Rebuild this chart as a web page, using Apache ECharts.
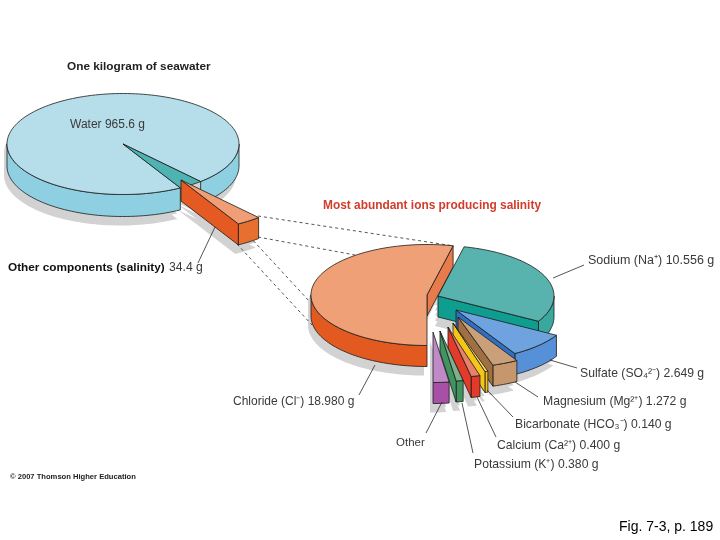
<!DOCTYPE html>
<html>
<head>
<meta charset="utf-8">
<style>html,body{margin:0;padding:0;background:#fff}#main{width:720px;height:540px}</style>
<script src="https://cdn.jsdelivr.net/npm/echarts@6/dist/echarts.min.js"></script>
</head>
<body>
<div id="main"></div>
<script>
// 海水成分
var seawaterNames = ['Water', 'Other components (salinity)'];
var seawaterGrams = [965.6, 34.4];

// 离子 (slice sizes as drawn in the figure, in degrees; small ones are widened there)
var ionNames = ['Chloride', 'Sodium', 'Sulfate', 'Magnesium', 'Bicarbonate', 'Calcium', 'Potassium', 'Other'];
var ionGrams = [18.980, 10.556, 2.649, 1.272, 0.140, 0.400, 0.380, null];
var ionDrawnDegrees = [193, 107, 29.5, 13, 1.5, 4.5, 3.5, 8];

var waterLabel = 'Water 965.6 g';
var ionLabels = [
    'Chloride (Cl\u207B) 18.980 g',
    'Sodium (Na\u207A) 10.556 g',
    'Sulfate (SO\u2084\u00B2\u207B) 2.649 g',
    'Magnesium (Mg\u00B2\u207A) 1.272 g',
    'Bicarbonate (HCO\u2083\u207B) 0.140 g',
    'Calcium (Ca\u00B2\u207A) 0.400 g',
    'Potassium (K\u207A) 0.380 g',
    'Other'
];

// layout
var RX = 116, RY = 50.5, DEPTH = 21;
var FONT = '"Liberation Sans", Arial, sans-serif';
var GAP_START = 48;
var INK = '#1c1c1c';

var ionCenters = [[427, 295], [438, 296], [456, 310], [458, 317], [453, 323], [448, 327], [440, 331], [433, 332]];
var ionTop = ['#f0a077', '#58b3ae', '#6fa3df', '#c9a07a', '#f6de72', '#e8806a', '#7db08b', '#c08ac8'];
var ionRadial = ['#e87b4c', '#0f9d8f', '#2e6fc4', '#a06f42', '#f5c518', '#e23b2a', '#3f9460', '#a850a8'];
var ionOuter = ['#e25a20', '#39a9a0', '#5590d8', '#c6976c', '#f5c518', '#e23b2a', '#3f9460', '#a850a8'];

// every slice: centre, angle range, colours. Angles run clockwise on the screen.
function buildSlices() {
    var list = [];
    var waterDeg = seawaterGrams[0] / (seawaterGrams[0] + seawaterGrams[1]) * 360;
    var otherDeg = 360 - waterDeg;
    list.push({c: [123, 144], a0: GAP_START + otherDeg, a1: GAP_START + 360, top: '#b6deea', radial: null, outer: '#8ed0e2', depth: 22});
    list.push({c: [123, 144], a0: GAP_START, a1: GAP_START + otherDeg, top: '#4fb3b3', radial: null, outer: null, depth: 0});
    list.push({c: [181, 180], a0: GAP_START, a1: GAP_START + otherDeg, top: '#ef9e76', radial: '#e55a22', outer: '#e8702e', depth: 21});
    var a = 90;
    for (var i = 0; i < ionDrawnDegrees.length; i++) {
        list.push({c: ionCenters[i], a0: a, a1: a + ionDrawnDegrees[i], top: ionTop[i], radial: ionRadial[i], outer: ionOuter[i], depth: DEPTH});
        a += ionDrawnDegrees[i];
    }
    return list;
}
var slices = buildSlices();

function pt(c, deg, dy, dx) {
    var r = deg * Math.PI / 180;
    return [c[0] + RX * Math.cos(r) + (dx || 0), c[1] + RY * Math.sin(r) + (dy || 0)];
}

function arcPoints(c, a0, a1, dy, dx) {
    var out = [];
    var n = Math.max(2, Math.ceil((a1 - a0) / 2));
    for (var i = 0; i <= n; i++) {
        out.push(pt(c, a0 + (a1 - a0) * i / n, dy, dx));
    }
    return out;
}

function poly(points, fill, stroke) {
    return {
        type: 'polygon',
        shape: {points: points},
        style: {fill: fill, stroke: stroke || null, lineWidth: stroke ? 0.8 : 0, lineJoin: 'round'}
    };
}

function sectorPoints(s, dy, dx) {
    return [[s.c[0] + (dx || 0), s.c[1] + (dy || 0)]].concat(arcPoints(s.c, s.a0, s.a1, dy, dx));
}

function renderShadow(params) {
    var s = slices[params.dataIndex];
    if (!s.depth) return {type: 'group', children: []};
    var kids = [];
    for (var k = 0; k <= 4; k++) {
        kids.push(poly(sectorPoints(s, 9 + s.depth * k / 4, -3), '#d2d2d2'));
    }
    return {type: 'group', children: kids};
}

function renderSlice(params) {
    var s = slices[params.dataIndex];
    var kids = [];
    if (s.depth) {
        // outer wall, only the part of the rim facing the viewer
        if (s.outer) {
            for (var k = -1; k <= 1; k++) {
                var lo = Math.max(s.a0, k * 360), hi = Math.min(s.a1, k * 360 + 180);
                if (hi > lo) {
                    var up = arcPoints(s.c, lo, hi, 0);
                    var down = arcPoints(s.c, lo, hi, s.depth).reverse();
                    kids.push(poly(up.concat(down), s.outer, INK));
                }
            }
        }
        // cut wall
        if (s.radial) {
            var walls = [];
            if (Math.cos(s.a1 * Math.PI / 180) > 0.01) walls.push(s.a1);
            if (Math.cos(s.a0 * Math.PI / 180) < -0.01) walls.push(s.a0);
            walls.forEach(function (w) {
                var e = pt(s.c, w, 0);
                kids.push(poly([s.c, e, [e[0], e[1] + s.depth], [s.c[0], s.c[1] + s.depth]], s.radial, INK));
            });
        }
    }
    kids.push(poly(sectorPoints(s, 0), s.top, INK));
    return {type: 'group', children: kids};
}

function textItem(x, y, text, size, weight, color, align) {
    return {
        type: 'text',
        x: x,
        y: y,
        z: 20,
        style: {text: text, fill: color || '#3a3a3a', font: (weight || 'normal') + ' ' + size + 'px ' + FONT, textAlign: align || 'left', textVerticalAlign: 'middle'}
    };
}

function lineItem(p, q, dashed) {
    return {
        type: 'line',
        z: dashed ? 8 : 15,
        shape: {x1: p[0], y1: p[1], x2: q[0], y2: q[1]},
        style: {stroke: '#2a2a2a', lineWidth: 0.8, lineDash: dashed ? [3, 3] : null}
    };
}

var annotations = [
    textItem(67, 67, 'One kilogram of seawater', 11.8, 'bold', '#222'),
    textItem(70, 125, waterLabel, 12),
    textItem(323, 206, 'Most abundant ions producing salinity', 11.9, 'bold', '#d23c2c'),
    textItem(8, 268, seawaterNames[1], 11.8, 'bold', '#111'),
    textItem(169, 268, seawaterGrams[1] + ' g', 12.2),
    textItem(233, 402, ionLabels[0], 12),
    textItem(588, 261, ionLabels[1], 12.5),
    textItem(580, 374, ionLabels[2], 12.2),
    textItem(543, 402, ionLabels[3], 12.2),
    textItem(515, 425, ionLabels[4], 12.2),
    textItem(497, 446, ionLabels[5], 12.2),
    textItem(474, 465, ionLabels[6], 12.2),
    textItem(396, 443, ionLabels[7], 11.5),
    textItem(10, 477, '\u00A9 2007 Thomson Higher Education', 7.6, 'bold', '#222'),
    textItem(619, 527, 'Fig. 7-3, p. 189', 14, 'normal', '#000'),
    // 引线
    lineItem([215, 227], [198, 263]),
    lineItem([375, 365], [359, 395]),
    lineItem([553, 278], [584, 265]),
    lineItem([550, 360], [577, 368]),
    lineItem([515, 382], [538, 397]),
    lineItem([487, 390], [513, 417]),
    lineItem([477, 397], [496, 437]),
    lineItem([462, 403], [473, 453]),
    lineItem([442, 402], [426, 433]),
    // 虚线
    lineItem([258, 216], [454, 246], true),
    lineItem([258, 237], [355, 255], true),
    lineItem([237, 223], [310, 302], true),
    lineItem([237, 244], [312, 325], true)
];

var sliceRows = slices.map(function (s, i) { return [i, s.a1 - s.a0]; });

var chart = echarts.init(document.getElementById('main'), null, {renderer: 'canvas'});
chart.setOption({
    animation: false,
    backgroundColor: '#fff',
    graphic: {elements: annotations},
    series: [
        {type: 'custom', coordinateSystem: 'none', z: 1, silent: true, renderItem: renderShadow, data: sliceRows},
        {type: 'custom', coordinateSystem: 'none', z: 10, silent: true, renderItem: renderSlice, data: sliceRows}
    ]
});
</script>
</body>
</html>
